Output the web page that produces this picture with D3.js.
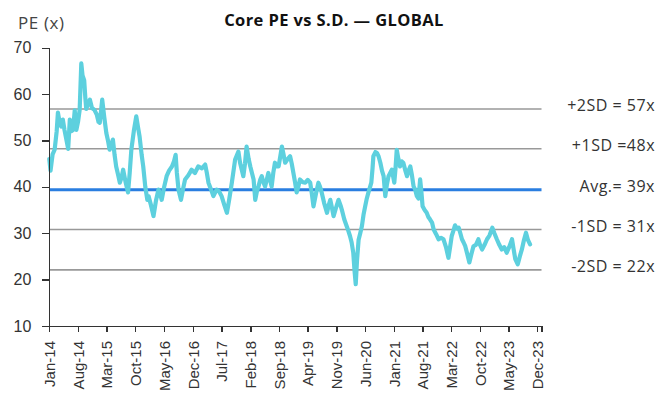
<!DOCTYPE html>
<html lang="en">
<head>
<meta charset="utf-8">
<title>Core PE vs S.D. - GLOBAL</title>
<script src="https://cdn.jsdelivr.net/npm/d3@7"></script>
<style>
  body { margin: 0; background: #fff; }
  svg { font-family: "Open Sans", Lato, sans-serif; }
  .axis path, .axis line { stroke: #333; stroke-width: 1.3; shape-rendering: crispEdges; }
  .axis text { fill: #333; }
</style>
</head>
<body>
<script>
// months since Jan-2014 for each reading, and the PE
var monthOffset = [
  0, 0.3, 0.8, 1.3, 1.8, 2.1, 2.5, 2.9, 3.3, 3.7, 4.2, 4.6, 5.0, 5.4, 5.8, 6.2, 6.6, 7.0, 7.4, 7.8,
  8.1, 8.5, 8.8, 9.0, 9.5, 9.9, 10.4, 11.0, 11.6, 12.0, 12.3, 12.9, 13.4, 13.9, 14.3, 14.7, 15.1, 15.5, 15.9, 16.3,
  16.8, 17.2, 17.6, 18.0, 18.6, 19.2, 19.6, 20.0, 20.6, 21.2, 21.6, 22.0, 22.5, 22.9, 23.4, 23.9, 24.2, 24.8, 25.4, 26.0,
  26.6, 27.0, 27.4, 28.0, 28.6, 29.2, 29.9, 30.4, 30.8, 31.1, 31.5, 32.1, 32.6, 33.1, 33.9, 34.7, 35.5, 36.3, 37.2, 38.0,
  38.4, 38.8, 39.4, 40.0, 40.8, 41.4, 42.0, 42.7, 43.3, 43.9, 44.5, 45.0, 45.3, 46.1, 46.5, 47.3, 47.7, 48.1, 48.6, 49.0,
  49.4, 49.8, 50.2, 50.6, 51.0, 51.4, 51.8, 52.2, 52.6, 53.0, 53.4, 53.8, 54.2, 54.6, 55.0, 55.5, 55.9, 56.3, 56.7, 57.1,
  57.5, 58.1, 58.7, 59.1, 59.5, 59.9, 60.3, 60.7, 61.1, 61.8, 62.4, 63.0, 63.6, 64.0, 64.4, 65.0, 65.6, 66.0, 66.4, 67.0,
  67.7, 68.1, 68.5, 68.9, 69.3, 69.9, 70.5, 71.0, 71.3, 71.9, 72.5, 72.9, 73.3, 73.7, 74.1, 74.4, 74.7, 75.0, 75.4, 75.8,
  76.2, 76.6, 77.0, 77.4, 77.8, 78.2, 78.5, 78.8, 79.0, 79.5, 79.9, 80.3, 80.7, 81.1, 81.5, 81.9, 82.3, 82.7, 83.1, 83.5,
  84.1, 84.4, 84.7, 85.1, 85.5, 85.9, 86.3, 86.8, 87.2, 87.6, 88.0, 88.4, 88.8, 89.2, 89.6, 90.0, 90.4, 90.7, 91.0, 91.5,
  92.0, 92.4, 92.8, 93.3, 93.7, 94.3, 94.9, 95.5, 96.1, 96.7, 97.3, 97.7, 98.1, 98.5, 98.9, 99.4, 99.8, 100.2, 100.6, 101.0,
  101.4, 101.9, 102.4, 102.9, 103.4, 104.0, 104.6, 105.0, 105.5, 106.1, 106.7, 107.3, 108.0, 108.5, 109.1, 109.7, 110.3, 110.9, 111.5, 112.1,
  112.8, 113.2, 113.6, 114.2, 114.7, 115.2, 115.7, 116.2, 116.7, 117.2
];
var peValues = [
  46, 43.5, 47, 48, 52, 56, 54, 53, 54.5, 52.3, 50, 48.2, 54.5, 52, 52.3, 56.5, 52.3, 54, 56.6, 66.6,
  64, 63, 59, 56.8, 58, 58.8, 57, 56.6, 55.5, 54, 53.8, 58.8, 55, 51.6, 50, 48, 49, 50.2, 47, 44.4,
  42.5, 40.9, 42, 43.7, 41, 38.8, 43, 48, 52, 55.2, 53, 50.9, 47, 44.4, 40, 37.2, 38, 36, 33.7, 37,
  39.4, 38.5, 37.2, 40, 42.3, 43.5, 44.4, 45.5, 46.9, 43, 39.4, 37.2, 39.5, 41.6, 42.5, 43.7, 43, 44.4, 44, 44.8,
  43, 40.9, 39.5, 38, 39.4, 39, 38, 36, 34.4, 37.5, 40.9, 44, 45.9, 47.6, 45.2, 42.3, 45, 48.7, 46, 44.4,
  43, 41.6, 37.2, 39, 40.1, 41.5, 42.3, 41, 40.1, 41.5, 43, 41.5, 40.1, 43, 45.2, 44.4, 44.4, 46.5, 48.7, 47,
  45.2, 46, 46.6, 45, 43, 41, 38.8, 40, 41.6, 41, 40.9, 41.5, 40.9, 38.5, 35.8, 38.5, 40.9, 40, 38.8, 36.5,
  34.4, 36, 37.2, 35.5, 33.7, 35.5, 37.2, 36, 35.1, 33, 31.5, 30.5, 29.4, 28, 25.8, 22, 19, 24, 28.6, 30,
  31.5, 34, 35.8, 37.5, 38.8, 40, 40.9, 44, 46.6, 47.5, 47.3, 46.5, 45.2, 43.5, 42.3, 38, 40.5, 42.3, 43, 43.7,
  40.9, 44, 48, 46, 44.4, 45.5, 45.2, 43.5, 42.3, 43.5, 44.4, 42.5, 40.1, 39.4, 38, 37.5, 41.6, 39, 35.8, 35,
  34.4, 33.5, 33, 32.3, 30.8, 29.8, 28.7, 29, 28.7, 27, 24.7, 27, 29.4, 30.5, 31.7, 31, 31.2, 30, 28.7, 28,
  27.2, 25.5, 23.7, 25.5, 27.2, 27.5, 28.7, 27.5, 26.5, 27.5, 28.7, 29.5, 31.2, 30, 28.7, 27.5, 26.5, 27, 25.8, 27,
  28.7, 26.5, 24.4, 23.3, 25, 26.5, 28.5, 30.1, 28.5, 27.6
];

var sdValues = [56.8, 48.2, 39.4, 30.8, 22.1];
var sdLabels = ["+2SD = 57x", "+1SD =48x", "Avg.= 39x", "-1SD = 31x", "-2SD = 22x"];
var yTicks = [10, 20, 30, 40, 50, 60, 70];

var width = 658, height = 414;
var plotLeft = 49.3, plotRight = 541.5, plotTop = 47.7, plotBottom = 326;

var start = new Date(2014, 0, 1);
function toDate(m) { return new Date(start.getTime() + m * 30.437 * 864e5); }

var data = monthOffset.map(function(m, i) { return { date: toDate(m), pe: peValues[i] }; });

var x = d3.scaleTime().domain([new Date(2014, 0, 1), new Date(2024, 0, 1)]).range([plotLeft, plotRight]);
var y = d3.scaleLinear().domain([10, 70]).range([plotBottom, plotTop]);

var svg = d3.select("body").append("svg")
    .attr("width", width)
    .attr("height", height);

// title + unit
svg.append("text")
    .attr("x", 334).attr("y", 26)
    .attr("text-anchor", "middle")
    .style("font-size", "16.5px").style("font-weight", "bold").style("fill", "#111")
    .style("letter-spacing", "0.4px")
    .text("Core PE vs S.D. \u2014 GLOBAL");

svg.append("text")
    .attr("x", 18).attr("y", 29)
    .style("font-size", "17px").style("fill", "#444")
    .style("letter-spacing", "0.6px")
    .text("PE (x)");

// SD reference lines
svg.selectAll(".sd")
    .data(sdValues)
  .enter().append("line")
    .attr("class", "sd")
    .attr("x1", plotLeft).attr("x2", plotRight)
    .attr("y1", function(d) { return y(d); })
    .attr("y2", function(d) { return y(d); })
    .style("stroke", function(d, i) { return i == 2 ? "#2a7ee0" : "#999"; })
    .style("stroke-width", function(d, i) { return i == 2 ? 3 : 1.6; });

svg.selectAll(".sdlabel")
    .data(sdValues)
  .enter().append("text")
    .attr("class", "sdlabel")
    .attr("x", 655)
    .attr("y", function(d) { return y(d) + 2; })
    .attr("text-anchor", "end")
    .style("font-size", "16px").style("fill", "#333")
    .style("letter-spacing", "0.5px")
    .text(function(d, i) { return sdLabels[i]; });

// PE line
var line = d3.line()
    .x(function(d) { return x(d.date); })
    .y(function(d) { return y(d.pe); });

svg.append("path")
    .datum(data)
    .attr("d", line)
    .style("fill", "none")
    .style("stroke", "#5dd0de")
    .style("stroke-width", 4.2)
    .style("stroke-linejoin", "round")
    .style("stroke-linecap", "round");

// axes
var xTicks = d3.range(18).map(function(i) { return new Date(2014, 7 * i, 1); });

var gx = svg.append("g")
    .attr("class", "axis")
    .attr("transform", "translate(0," + plotBottom + ")")
    .call(d3.axisBottom(x).tickValues(xTicks).tickSizeOuter(0).tickSize(6).tickFormat(d3.timeFormat("%b-%y")));
gx.selectAll("text")
    .attr("transform", "rotate(-90)")
    .attr("x", -15).attr("y", 0).attr("dy", "0.35em")
    .style("text-anchor", "end")
    .style("font-size", "15px");

svg.append("g")
    .attr("class", "axis")
    .attr("transform", "translate(" + plotLeft + ",0)")
    .call(d3.axisLeft(y).tickValues(yTicks).tickSizeOuter(0).tickSize(7).tickPadding(11))
  .selectAll("text")
    .style("font-size", "16px");
</script>
</body>
</html>
